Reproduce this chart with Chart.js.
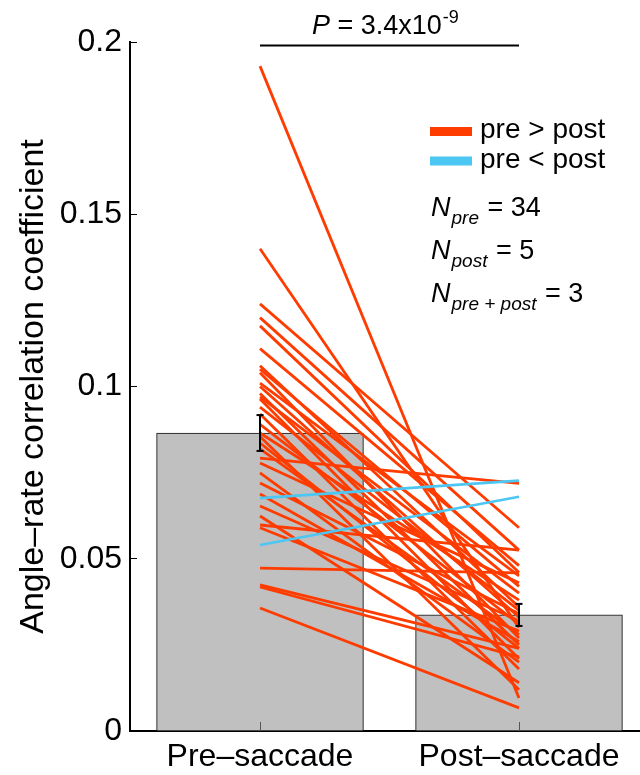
<!DOCTYPE html>
<html><head><meta charset="utf-8">
<script src="https://cdn.jsdelivr.net/npm/chart.js@4/dist/chart.umd.min.js"></script>
<style>html,body{margin:0;padding:0;background:#fff}#wrap{width:640px;height:775px}</style>
</head><body><div id="wrap"><canvas id="c" width="640" height="775"></canvas></div>
<script>
const categories = ['Pre\u2013saccade', 'Post\u2013saccade'];
const categoryX = [1, 2];
const barMeans = [0.0865, 0.0337];
const barErrors = [0.0052, 0.0032];
const redPre  = [0.193, 0.140, 0.124, 0.120, 0.1176, 0.111, 0.106, 0.105, 0.104, 0.101, 0.100, 0.098, 0.097, 0.0964, 0.094, 0.092, 0.089, 0.0865, 0.0855, 0.0836, 0.0819, 0.0792, 0.0778, 0.0749, 0.072, 0.0688, 0.0653, 0.0624, 0.0598, 0.059, 0.0473, 0.0424, 0.0418, 0.0357];
const redPost = [0.0096, 0.030, 0.059, 0.0525, 0.046, 0.048, 0.036, 0.042, 0.027, 0.045, 0.033, 0.025, 0.040, 0.021, 0.035, 0.018, 0.031, 0.038, 0.012, 0.024, 0.028, 0.0719, 0.043, 0.020, 0.034, 0.026, 0.032, 0.014, 0.0525, 0.029, 0.0459, 0.024, 0.0215, 0.0067];
const bluePre  = [0.0676, 0.054];
const bluePost = [0.0727, 0.068];
const yTicks = [0, 0.05, 0.1, 0.15, 0.2];
const sigLevel = 0.1992;
const pText = ['P', ' = 3.4x10', '-9'];
const legendLabels = ['pre > post', 'pre < post'];
const nLabels = [['N', 'pre', ' = 34'], ['N', 'post', ' = 5'], ['N', 'pre + post', ' = 3']];

const RED = '#ff3c00', BLUE = '#4cc6f2';
const FONT = '"Liberation Sans", Arial, Helvetica, sans-serif';

const datasets = [];
datasets.push({
  type: 'line', order: 0, label: 'err-pre',
  data: [{x: categoryX[0], y: barMeans[0] - barErrors[0]}, {x: categoryX[0], y: barMeans[0] + barErrors[0]}],
  borderColor: '#000', borderWidth: 2, pointStyle: 'line', pointRadius: 3.5, pointBorderWidth: 2, pointBorderColor: '#000'
});
datasets.push({
  type: 'line', order: 0, label: 'err-post',
  data: [{x: categoryX[1], y: barMeans[1] - barErrors[1]}, {x: categoryX[1], y: barMeans[1] + barErrors[1]}],
  borderColor: '#000', borderWidth: 2, pointStyle: 'line', pointRadius: 3.5, pointBorderWidth: 2, pointBorderColor: '#000'
});
bluePre.forEach((v, i) => datasets.push({
  type: 'line', order: 1, label: 'blue' + i,
  data: [{x: categoryX[0], y: v}, {x: categoryX[1], y: bluePost[i]}],
  borderColor: BLUE, borderWidth: 2.7, pointRadius: 0
}));
redPre.forEach((v, i) => datasets.push({
  type: 'line', order: 2, label: 'red' + i,
  data: [{x: categoryX[0], y: v}, {x: categoryX[1], y: redPost[i]}],
  borderColor: RED, borderWidth: 2.8, pointRadius: 0
}));
datasets.push({
  type: 'bar', order: 3, label: 'means',
  data: barMeans.map((m, i) => ({x: categoryX[i], y: m})),
  backgroundColor: '#c0c0c0', borderColor: '#3a3a3a', borderWidth: 1.2,
  barThickness: 207, grouped: false
});

const annot = {
  id: 'annot',
  afterDatasetsDraw(chart) {
    // category tick marks (drawn inward, visible over the bars)
    const ctx = chart.ctx, xs = chart.scales.x, ys = chart.scales.y;
    const yb = ys.getPixelForValue(0);
    ctx.save();
    ctx.strokeStyle = '#555'; ctx.lineWidth = 1;
    categoryX.forEach(v => {
      const px = Math.round(xs.getPixelForValue(v)) + 0.5;
      ctx.beginPath(); ctx.moveTo(px, yb); ctx.lineTo(px, yb - 9); ctx.stroke();
    });
    ctx.restore();
  },
  afterDraw(chart) {
    const ctx = chart.ctx, xs = chart.scales.x, ys = chart.scales.y;
    ctx.save();
    ctx.strokeStyle = '#000'; ctx.lineWidth = 2;
    const yb = ys.getPixelForValue(0);
    ctx.beginPath(); ctx.moveTo(chart.chartArea.right - 1, yb); ctx.lineTo(chart.width, yb); ctx.stroke();
    const yl = Math.round(ys.getPixelForValue(sigLevel)) + 0.5;
    ctx.beginPath(); ctx.moveTo(xs.getPixelForValue(categoryX[0]), yl); ctx.lineTo(xs.getPixelForValue(categoryX[1]), yl); ctx.stroke();
    ctx.fillStyle = '#000'; ctx.textBaseline = 'alphabetic'; ctx.textAlign = 'left';
    let x = 312;
    ctx.font = 'italic 27px ' + FONT; ctx.fillText(pText[0], x, 34); x += ctx.measureText(pText[0]).width;
    ctx.font = '27px ' + FONT; ctx.fillText(pText[1], x, 34); x += ctx.measureText(pText[1]).width;
    ctx.font = '18px ' + FONT; ctx.fillText(pText[2], x + 1, 23);
    const sw = [[RED, 131.5], [BLUE, 161]];
    sw.forEach((s, i) => {
      ctx.fillStyle = s[0]; ctx.fillRect(430, s[1] - 4.5, 42, 9);
      ctx.fillStyle = '#000'; ctx.font = '28px ' + FONT; ctx.textBaseline = 'middle';
      ctx.fillText(legendLabels[i], 480, s[1] - 1);
    });
    ctx.textBaseline = 'alphabetic';
    const baselines = [216, 259, 302];
    nLabels.forEach((n, i) => {
      let xx = 431;
      ctx.font = 'italic 27px ' + FONT; ctx.fillText(n[0], xx, baselines[i]); xx += ctx.measureText(n[0]).width;
      ctx.font = 'italic 19px ' + FONT; ctx.fillText(n[1], xx + 1, baselines[i] + 8); xx += ctx.measureText(n[1]).width + 2;
      ctx.font = '27px ' + FONT; ctx.fillText(n[2], xx, baselines[i]);
    });
    ctx.restore();
  }
};

new Chart(document.getElementById('c'), {
  type: 'line',
  data: {datasets},
  plugins: [annot],
  options: {
    responsive: false, animation: false,
    layout: {padding: {top: 42, right: 0, left: 0, bottom: 0}},
    plugins: {legend: {display: false}, tooltip: {enabled: false}},
    scales: {
      x: {
        type: 'linear', min: 0.498, max: 2.444, offset: false,
        afterBuildTicks: s => { s.ticks = categoryX.map(v => ({value: v})); },
        afterFit: s => { s.height = 44; s.paddingLeft = 0; s.paddingRight = 0; },
        ticks: {color: '#000', font: {size: 32, family: FONT}, padding: 16, maxRotation: 0,
          callback: v => categories[categoryX.indexOf(v)]},
        grid: {offset: false, drawOnChartArea: false, drawTicks: true, tickLength: -9, color: '#000', tickColor: '#000', lineWidth: 1},
        border: {display: true, color: '#000', width: 2}
      },
      y: {
        type: 'linear', min: 0, max: 0.2,
        afterBuildTicks: s => { s.ticks = yTicks.map(v => ({value: v})); },
        afterFit: s => { s.width = 130; },
        ticks: {color: '#000', font: {size: 32, family: FONT}, padding: 15,
          callback: v => String(v)},
        grid: {drawOnChartArea: false, drawTicks: true, tickLength: -7, color: '#000', tickColor: '#000', lineWidth: 1},
        border: {display: true, color: '#000', width: 2},
        title: {display: true, text: 'Angle\u2013rate correlation coefficient', color: '#000',
          font: {size: 34, family: FONT}, padding: {top: 13, bottom: 0}}
      }
    }
  }
});
</script></body></html>
